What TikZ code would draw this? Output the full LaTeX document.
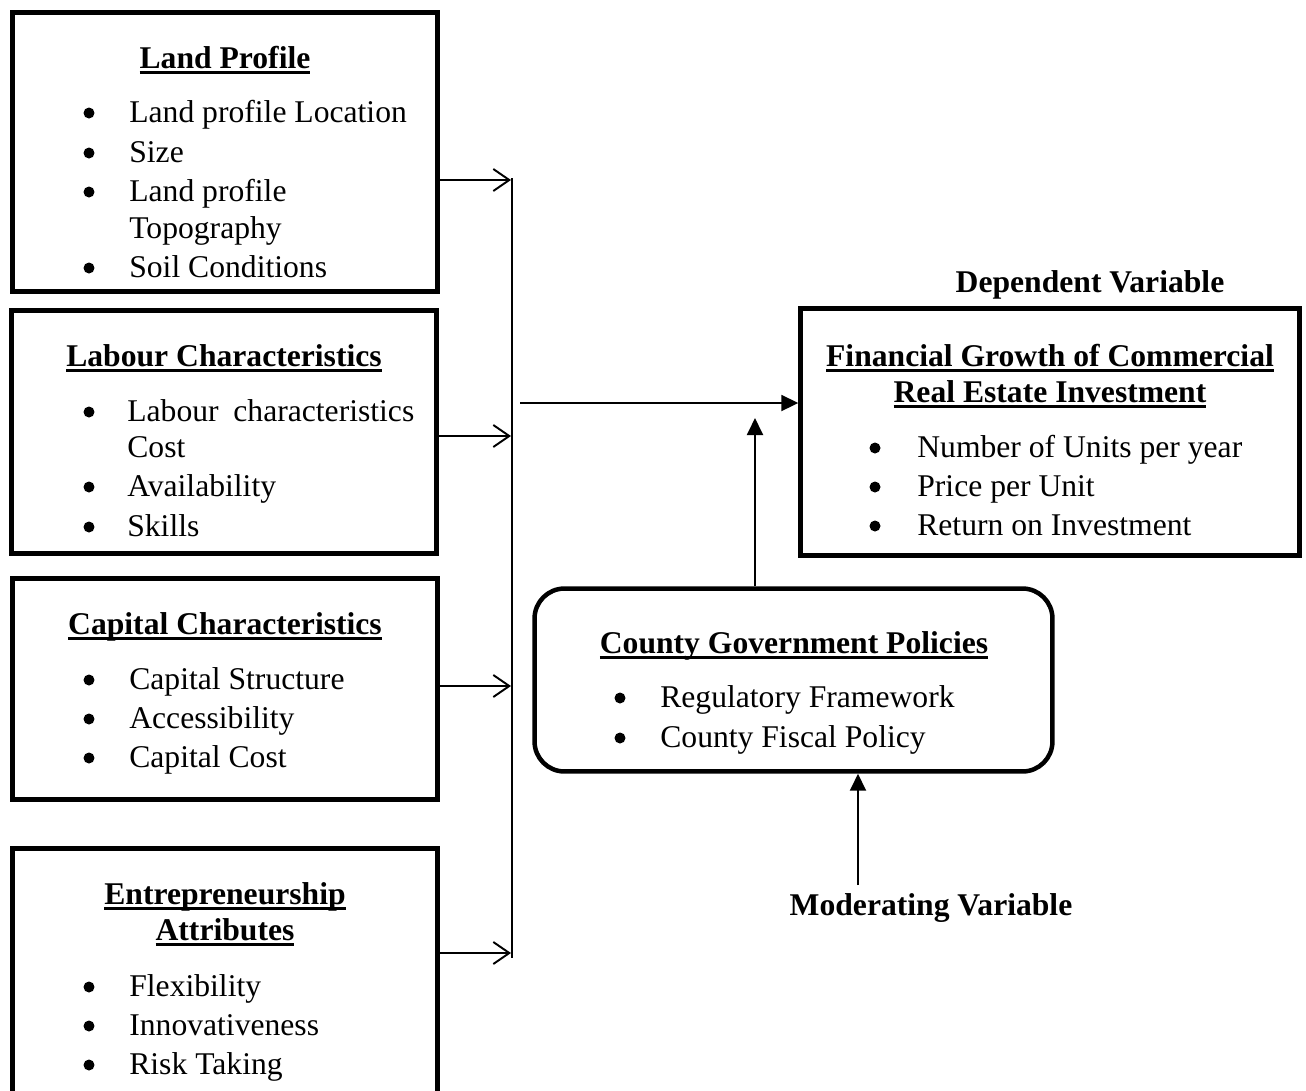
\documentclass[tikz,border=0pt]{standalone}
\usepackage{fontspec}
\setmainfont{Liberation Serif}
\usetikzlibrary{arrows.meta}

\newlength{\hulw}
\newcommand{\headul}[1]{\settowidth{\hulw}{\textbf{#1}}\textbf{#1}\llap{\rule[-3.2pt]{\hulw}{1.6pt}}}

\begin{document}
\begin{tikzpicture}[x=0.02cm, y=-0.02cm,
    font=\fontsize{18}{22}\selectfont,
    box/.style={draw, line width=0.09cm, inner sep=0pt},
    heading/.style={anchor=base, inner sep=0pt},
    item/.style={anchor=base west, inner sep=0pt},
    bul/.style={circle, fill, inner sep=0pt, minimum size=0.22cm},
    open arrow/.style={line width=1.1pt, -{Straight Barb[length=0.32cm, width=0.44cm, line width=1.1pt]}},
    solid arrow/.style={line width=1.1pt, -{Triangle[length=0.34cm, width=0.32cm]}}]
        \clip (0,0) rectangle (1306,1090);

        % Independent variable boxes
        \node[box, minimum width=8.5cm, minimum height=5.58cm] (land)    at (225,152)   {};
        \node[box, minimum width=8.5cm, minimum height=4.86cm] (labour)  at (224,432)   {};
        \node[box, minimum width=8.5cm, minimum height=4.42cm] (capital) at (225,689)   {};
        \node[box, minimum width=8.5cm, minimum height=6cm]    (entre)   at (225,998.5) {};

        % Dependent and moderating boxes
        \node[box, minimum width=9.98cm, minimum height=4.94cm] (dep) at (1050,432) {};
        \node[box, rounded corners=0.6cm, minimum width=10.36cm, minimum height=3.66cm] (county) at (793.5,680) {};

        % Land profile
        \node[heading] (landh) at (225,68) {\headul{Land Profile}};
        \node[bul] (lb1) at (89,113) {};
        \node[item] (l1) at (129,122) {Land profile Location};
        \node[bul] (lb2) at (89,153) {};
        \node[item] (l2) at (129,162) {Size};
        \node[bul] (lb3) at (89,192) {};
        \node[item] (l3) at (129,201) {Land profile};
        \node[item] (l3b) at (129,238) {Topography};
        \node[bul] (lb4) at (89,268) {};
        \node[item] (l4) at (129,277) {Soil Conditions};

        % Labour characteristics
        \node[heading] (labh) at (224,366) {\headul{Labour Characteristics}};
        \node[bul] (ab1) at (89,412) {};
        \node[item] (a1) at (127,421) {\makebox[5.74cm][s]{Labour\hfill characteristics}};
        \node[item] (a1b) at (127,457) {Cost};
        \node[bul] (ab2) at (89,487) {};
        \node[item] (a2) at (127,496) {Availability};
        \node[bul] (ab3) at (89,527) {};
        \node[item] (a3) at (127,536) {Skills};

        % Capital characteristics
        \node[heading] (caph) at (225,634) {\headul{Capital Characteristics}};
        \node[bul] (cb1) at (89,680) {};
        \node[item] (c1) at (129,689) {Capital Structure};
        \node[bul] (cb2) at (89,719) {};
        \node[item] (c2) at (129,728) {Accessibility};
        \node[bul] (cb3) at (89,758) {};
        \node[item] (c3) at (129,767) {Capital Cost};

        % Entrepreneurship attributes
        \node[heading] (enth) at (225,904) {\headul{Entrepreneurship}};
        \node[heading] (enth2) at (225,940) {\headul{Attributes}};
        \node[bul] (eb1) at (89,987) {};
        \node[item] (e1) at (129,996) {Flexibility};
        \node[bul] (eb2) at (89,1026) {};
        \node[item] (e2) at (129,1035) {Innovativeness};
        \node[bul] (eb3) at (89,1065) {};
        \node[item] (e3) at (129,1074) {Risk Taking};

        % Dependent variable
        \node[heading] (deplab) at (1090,292) {\textbf{Dependent Variable}};
        \node[heading] (deph) at (1050,366) {\headul{Financial Growth of Commercial}};
        \node[heading] (deph2) at (1050,402) {\headul{Real Estate Investment}};
        \node[bul] (db1) at (875,448) {};
        \node[item] (d1) at (917,457) {Number of Units per year};
        \node[bul] (db2) at (875,487) {};
        \node[item] (d2) at (917,496) {Price per Unit};
        \node[bul] (db3) at (875,526) {};
        \node[item] (d3) at (917,535) {Return on Investment};

        % County government policies
        \node[heading] (couh) at (794,653) {\headul{County Government Policies}};
        \node[bul] (gb1) at (620,698) {};
        \node[item] (g1) at (660,707) {Regulatory Framework};
        \node[bul] (gb2) at (620,738) {};
        \node[item] (g2) at (660,747) {County Fiscal Policy};

        \node[heading] (modlab) at (931,915) {\textbf{Moderating Variable}};

        % Bus line and arrows into it
        \coordinate (bt) at (512,178);
        \coordinate (bb) at (512,958);
        \draw[line width=0.7pt] (bt) -- (bb);
        \coordinate (b1) at (511,180);
        \coordinate (b2) at (511,436);
        \coordinate (b3) at (511,686);
        \coordinate (b4) at (511,953);
        \draw[open arrow] (land.east |- b1) -- (b1);
        \draw[open arrow] (labour.east |- b2) -- (b2);
        \draw[open arrow] (capital.east |- b3) -- (b3);
        \draw[open arrow] (entre.east |- b4) -- (b4);

        % Arrows to the dependent variable
        \coordinate (mid) at (520,403);
        \draw[solid arrow] (mid) -- (dep.west |- mid);
        \coordinate (upend) at (755,418);
        \draw[solid arrow] (county.north -| upend) -- (upend);
        \coordinate (modtop) at (858,885);
        \draw[solid arrow] (modtop) -- (county.south -| modtop);
\end{tikzpicture}
\end{document}
